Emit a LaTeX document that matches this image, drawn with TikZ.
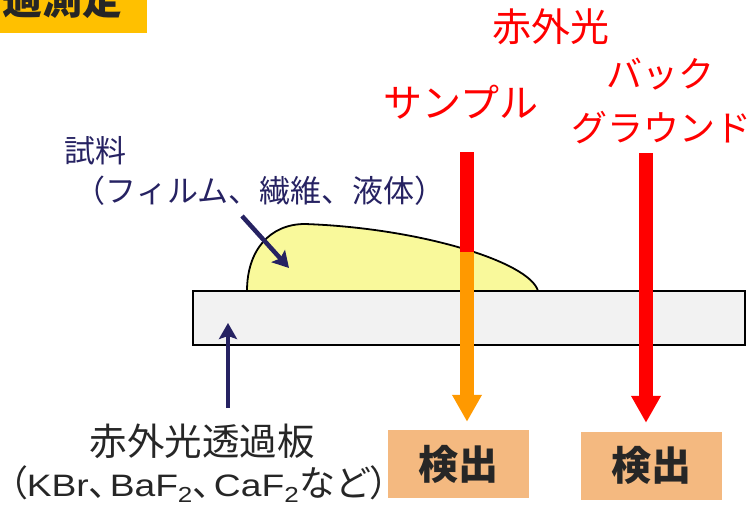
\documentclass[tikz,border=0pt]{standalone}
\usepackage{fontspec}
\setmainfont{Noto Sans CJK JP}
\newfontfamily\pcjk[RawFeature=+palt]{Noto Sans CJK JP}
\newfontfamily\latin[FakeStretch=1.2]{Liberation Sans}
\usetikzlibrary{arrows.meta}
\definecolor{navy}{RGB}{38,34,98}
\definecolor{irred}{RGB}{255,0,0}
\definecolor{irorange}{RGB}{255,153,0}
\definecolor{detfill}{RGB}{244,185,128}
\definecolor{platefill}{RGB}{242,242,242}
\definecolor{filmfill}{RGB}{249,249,155}
\definecolor{txtgray}{RGB}{38,38,38}
\definecolor{tabfill}{RGB}{255,192,0}
\newcommand{\fs}[1]{\fontsize{#1}{#1}\selectfont}
\newcommand{\lat}[1]{{\latin\fs{31}#1}}
\newcommand{\tou}{、\kern-15pt\relax}

\begin{document}
\begin{tikzpicture}[x=1pt,y=-1pt,every node/.style={inner sep=0pt},
  beam/.style={line width=14pt},
  beamtip/.style={-{Triangle[width=28pt,length=27pt]}},
  pointer/.style={navy,line width=4.5pt,-{Stealth[length=16pt,width=18pt,inset=3pt]}},
  detector/.style={fill=detfill,minimum width=141pt,minimum height=68pt,font=\fs{40}\bfseries,text=txtgray},
  redlbl/.style={font=\fs{36},text=irred}]
\useasboundingbox (0,0) rectangle (753,506);
\clip (0,0) rectangle (753,506);
% tab in the corner
\fill[tabfill] (0,0) rectangle (147,33);
\node[font=\fs{40}\bfseries,text=txtgray,anchor=base west] (tab) at (2,14) {過測定};
% sample film on the plate
\draw[line width=1.8pt,fill=filmfill] (247,291) .. controls (247,250) and (270,224) .. (305,224)
  .. controls (420,228) and (530,262) .. (538,291) -- cycle;
\draw[line width=1.8pt,fill=platefill] (193,291) rectangle (745,345);
% labels
\node[redlbl,font=\fs{39}] (ir) at (551,27) {赤外光};
\node[redlbl,font=\fs{39}] (smp) at (461,102) {サンプル};
\node[redlbl] (bg1) at (660,74) {バック};
\node[redlbl] (bg2) at (661,128) {グラウンド};
\node[font=\fs{31},text=navy] (film) at (95,151) {試料};
\node[font=\fs{31},text=navy] (filmkind) at (260,191) {（フィルム、繊維、液体）};
\node[font=\fs{37.5},text=txtgray] (plate) at (202,441) {赤外光透過板};
\node[font=\fs{36},text=txtgray] (platekind) at (199,484)
  {{\pcjk （}\lat{KBr}\tou\lat{BaF\textsubscript{2}}\tou\lat{CaF\textsubscript{2}}など{\pcjk ）}};
% detectors
\node[detector] (det1) at (458.5,464) {検出};
\node[detector] (det2) at (651,465.5) {検出};
% beams
\coordinate (smptop) at (467,152);
\coordinate (hit) at (467,252);
\coordinate (bgtop) at (646,153);
\draw[beam,irred] (smptop) -- (hit);
\draw[beam,irorange,beamtip,shorten >=8pt] (hit) -- (hit |- det1.north);
\draw[beam,irred,beamtip,shorten >=8.5pt] (bgtop) -- (bgtop |- det2.north);
% pointers
\coordinate (p1) at (242,216);
\coordinate (p1tip) at (289,268);
\coordinate (p2) at (228,408);
\coordinate (p2tip) at (228,323);
\draw[pointer] (p1) -- (p1tip);
\draw[pointer] (p2) -- (p2tip);
\end{tikzpicture}
\end{document}
